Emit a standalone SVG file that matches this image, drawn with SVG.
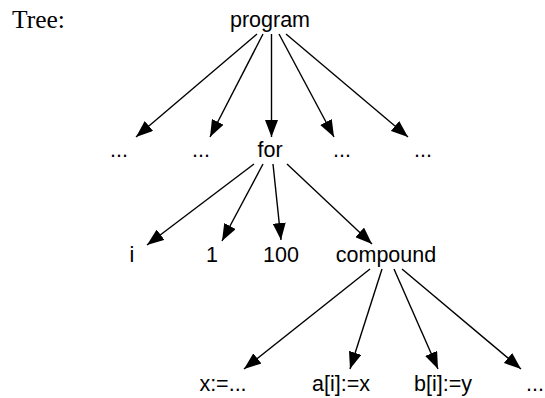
<svg xmlns="http://www.w3.org/2000/svg" width="545" height="398" viewBox="0 0 545 398">
<style>
.n{font-family:"Liberation Sans",Arial,Helvetica,sans-serif;font-size:21.5px;fill:#000;text-anchor:middle}
.t{font-family:"Liberation Serif","Times New Roman",serif;font-size:25.5px;fill:#000}
.e{stroke:#000;stroke-width:1.4;fill:none;marker-end:url(#ah)}
</style>
<defs>
<marker id="ah" viewBox="0 0 17 13" refX="17" refY="6.5" markerWidth="17" markerHeight="13" markerUnits="userSpaceOnUse" orient="auto">
<path d="M0,0 L17,6.5 L0,13 z" fill="#000"/>
</marker>
</defs>
<rect width="545" height="398" fill="#fff"/>
<text class="t" x="12" y="28">Tree:</text>
<g id="program"><text class="n" x="270" y="27">program</text></g>
<g id="d1"><text class="n" x="119" y="157">...</text></g>
<g id="d2"><text class="n" x="201" y="157">...</text></g>
<g id="for"><text class="n" x="270" y="157">for</text></g>
<g id="d3"><text class="n" x="342" y="157">...</text></g>
<g id="d4"><text class="n" x="423" y="157">...</text></g>
<g id="i"><text class="n" x="132" y="262">i</text></g>
<g id="one"><text class="n" x="212" y="262">1</text></g>
<g id="hundred"><text class="n" x="281" y="262">100</text></g>
<g id="compound"><text class="n" x="386" y="262">compound</text></g>
<g id="s1"><text class="n" x="223" y="391">x:=...</text></g>
<g id="s2"><text class="n" x="341" y="391">a[i]:=x</text></g>
<g id="s3"><text class="n" x="443" y="391">b[i]:=y</text></g>
<g id="s4"><text class="n" x="535" y="391">...</text></g>
<g id="edges">
<line class="e" x1="257" y1="34" x2="136" y2="137"/>
<line class="e" x1="263" y1="34" x2="210" y2="137"/>
<line class="e" x1="271.5" y1="34" x2="271.5" y2="137"/>
<line class="e" x1="279" y1="34" x2="334" y2="137"/>
<line class="e" x1="286" y1="34" x2="408" y2="137"/>
<line class="e" x1="254" y1="164" x2="147" y2="245"/>
<line class="e" x1="263" y1="164" x2="222" y2="241"/>
<line class="e" x1="273" y1="164" x2="281" y2="240"/>
<line class="e" x1="287" y1="164" x2="372" y2="244"/>
<line class="e" x1="370" y1="269" x2="244" y2="369"/>
<line class="e" x1="382" y1="269" x2="350" y2="369"/>
<line class="e" x1="394" y1="269" x2="438" y2="369"/>
<line class="e" x1="402" y1="269" x2="521" y2="369"/>
</g>
</svg>
